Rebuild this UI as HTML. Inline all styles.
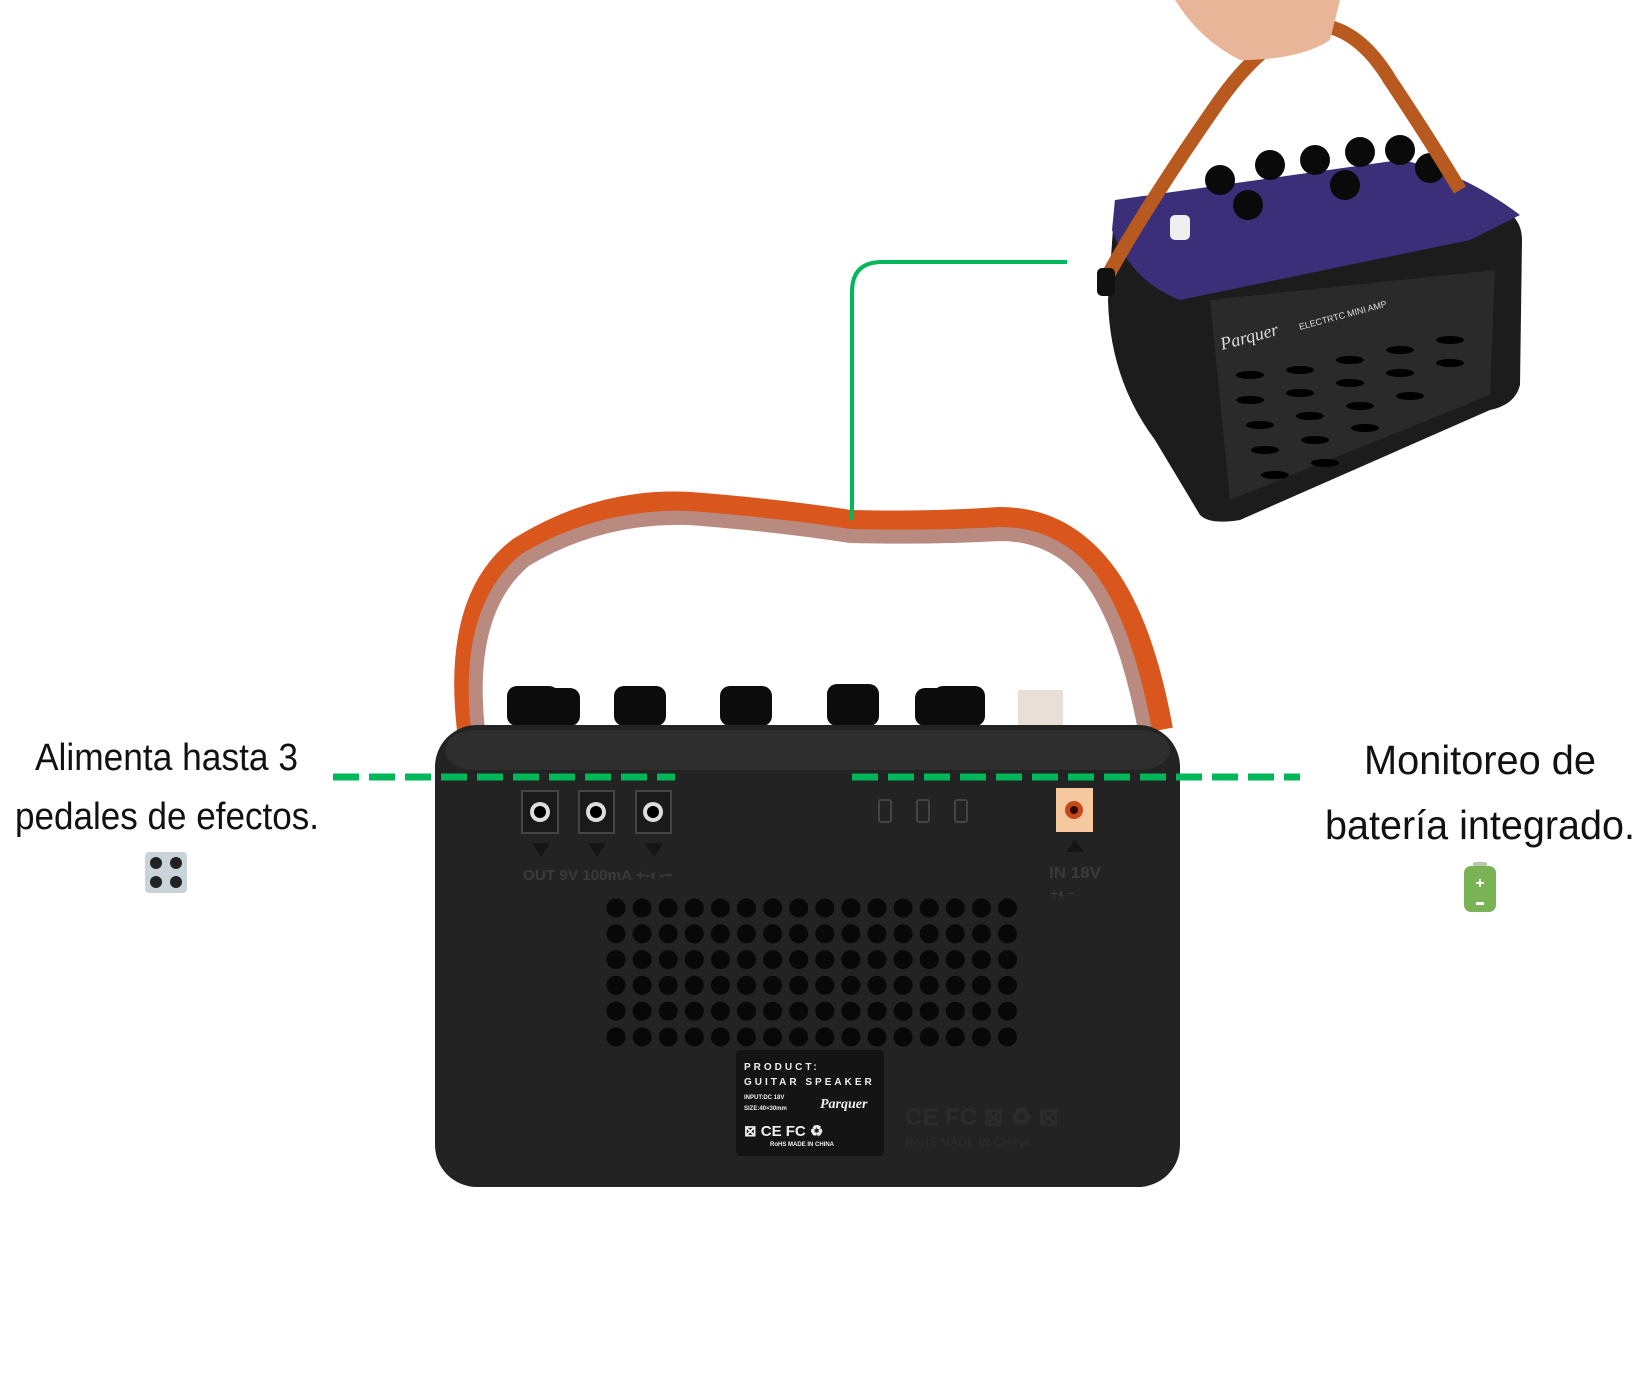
<!DOCTYPE html>
<html><head><meta charset="utf-8"><style>
html,body{margin:0;padding:0;background:#fff;}
svg{display:block;}
.cap{font-family:"Liberation Sans",sans-serif;fill:#111;}
</style></head><body>
<svg width="1645" height="1379" viewBox="0 0 1645 1379" xmlns="http://www.w3.org/2000/svg">
<!-- Captions -->
<text class="cap" x="35" y="770" font-size="38" textLength="263" lengthAdjust="spacingAndGlyphs">Alimenta hasta 3</text>
<text class="cap" x="15" y="829" font-size="38" textLength="304" lengthAdjust="spacingAndGlyphs">pedales de efectos.</text>
<text class="cap" x="1364" y="774" font-size="41" textLength="232" lengthAdjust="spacingAndGlyphs">Monitoreo de</text>
<text class="cap" x="1325" y="839" font-size="41" textLength="310" lengthAdjust="spacingAndGlyphs">batería integrado.</text>
<!-- pedal icon -->
<rect x="145" y="852" width="42" height="41" rx="4" fill="#c9d3da"/>
<circle cx="156" cy="863" r="6" fill="#222"/><circle cx="176" cy="863" r="6" fill="#222"/>
<circle cx="156" cy="882" r="6" fill="#222"/><circle cx="176" cy="882" r="6" fill="#222"/>
<!-- battery icon -->
<rect x="1473" y="862" width="14" height="6" rx="2" fill="#b8c7a8"/>
<rect x="1464" y="866" width="32" height="46" rx="7" fill="#7ab356"/>
<text x="1480" y="888" font-size="16" fill="#fff" text-anchor="middle" font-family="Liberation Sans,sans-serif" font-weight="bold">+</text>
<rect x="1476" y="902" width="8" height="3" fill="#fff"/>

<!-- Top-right amp (simplified) -->
<g>
<path d="M1115 200 L1470 200 Q1522 205 1522 240 L1520 385 Q1515 405 1490 410 L1240 520 Q1210 525 1200 515 L1155 440 Q1110 380 1108 300 Z" fill="#1c1c1c"/>
<path d="M1115 200 L1400 160 Q1460 170 1520 215 L1470 240 L1180 300 Q1130 280 1112 230 Z" fill="#3a2f78"/>
<path d="M1210 300 L1495 270 L1490 395 L1230 500 Z" fill="#2a2a2a"/>
<g fill="#000">
<ellipse cx="1250" cy="375" rx="14" ry="4"/><ellipse cx="1300" cy="370" rx="14" ry="4"/><ellipse cx="1350" cy="360" rx="14" ry="4"/><ellipse cx="1400" cy="350" rx="14" ry="4"/><ellipse cx="1450" cy="340" rx="14" ry="4"/>
<ellipse cx="1250" cy="400" rx="14" ry="4"/><ellipse cx="1300" cy="393" rx="14" ry="4"/><ellipse cx="1350" cy="383" rx="14" ry="4"/><ellipse cx="1400" cy="373" rx="14" ry="4"/><ellipse cx="1450" cy="363" rx="14" ry="4"/>
<ellipse cx="1260" cy="425" rx="14" ry="4"/><ellipse cx="1310" cy="416" rx="14" ry="4"/><ellipse cx="1360" cy="406" rx="14" ry="4"/><ellipse cx="1410" cy="396" rx="14" ry="4"/>
<ellipse cx="1265" cy="450" rx="14" ry="4"/><ellipse cx="1315" cy="440" rx="14" ry="4"/><ellipse cx="1365" cy="428" rx="14" ry="4"/>
<ellipse cx="1275" cy="475" rx="14" ry="4"/><ellipse cx="1325" cy="463" rx="14" ry="4"/>
</g>
<g fill="#0a0a0a">
<circle cx="1220" cy="180" r="15"/><circle cx="1270" cy="165" r="15"/><circle cx="1315" cy="160" r="15"/><circle cx="1360" cy="152" r="15"/><circle cx="1400" cy="150" r="15"/><circle cx="1430" cy="168" r="15"/><circle cx="1248" cy="205" r="15"/><circle cx="1345" cy="185" r="15"/>
</g>
<rect x="1170" y="215" width="20" height="25" rx="5" fill="#eee"/>
<text x="1222" y="350" font-size="18" fill="#ddd" font-family="Liberation Serif,serif" font-style="italic" transform="rotate(-15 1222 350)">Parquer</text>
<text x="1300" y="330" font-size="9" fill="#ddd" font-family="Liberation Sans,sans-serif" transform="rotate(-15 1300 330)">ELECTRTC MINI AMP</text>
<path d="M1108 275 Q1150 200 1220 100 Q1270 30 1320 25 Q1360 30 1390 80 Q1430 140 1460 190" fill="none" stroke="#b85a20" stroke-width="14"/>
<path d="M1175 0 Q1200 40 1240 60 Q1300 60 1330 40 L1340 0 Z" fill="#e8b598"/>
<rect x="1097" y="268" width="18" height="28" rx="5" fill="#111"/>
</g>

<!-- Main amp strap -->
<path d="M470 730 Q455 600 520 550 Q600 500 690 505 Q780 512 850 523 Q930 525 1000 520 Q1060 520 1100 570 Q1140 620 1160 730" fill="none" stroke="#d9561c" stroke-width="26"/>
<path d="M478 730 Q465 610 525 560 Q600 515 690 518 Q780 525 850 536 Q930 538 1000 534 Q1055 534 1090 578 Q1125 625 1145 730" fill="none" stroke="#b98a80" stroke-width="14"/>
<!-- knobs -->
<g fill="#0c0c0c">
<rect x="507" y="686" width="52" height="40" rx="10"/><rect x="535" y="688" width="45" height="38" rx="10"/>
<rect x="614" y="686" width="52" height="40" rx="10"/>
<rect x="720" y="686" width="52" height="40" rx="10"/>
<rect x="827" y="684" width="52" height="42" rx="10"/>
<rect x="915" y="688" width="40" height="38" rx="10"/><rect x="933" y="686" width="52" height="40" rx="10"/>
</g>
<rect x="1018" y="690" width="45" height="36" fill="#e8e0d6"/>
<!-- body -->
<rect x="435" y="725" width="745" height="462" rx="42" fill="#232323"/>
<rect x="445" y="730" width="725" height="40" rx="30" fill="#2e2e2e"/>
<!-- output jacks -->
<g>
<rect x="522" y="791" width="36" height="42" fill="#1a1a1a" stroke="#444" stroke-width="2"/>
<rect x="579" y="791" width="35" height="42" fill="#1a1a1a" stroke="#444" stroke-width="2"/>
<rect x="636" y="791" width="35" height="42" fill="#1a1a1a" stroke="#444" stroke-width="2"/>
<circle cx="540" cy="812" r="10" fill="#ddd"/><circle cx="540" cy="812" r="6" fill="#000"/>
<circle cx="596" cy="812" r="10" fill="#ddd"/><circle cx="596" cy="812" r="6" fill="#000"/>
<circle cx="653" cy="812" r="10" fill="#ddd"/><circle cx="653" cy="812" r="6" fill="#000"/>
<path d="M532 843 L550 843 L541 857 Z M588 843 L606 843 L597 857 Z M645 843 L663 843 L654 857 Z" fill="#151515"/>
<text x="523" y="880" font-size="15" fill="#3a3a3a" font-family="Liberation Sans,sans-serif" font-weight="bold" textLength="150" lengthAdjust="spacingAndGlyphs">OUT 9V 100mA +-◐-−</text>
</g>
<!-- battery leds -->
<g fill="none" stroke="#444" stroke-width="2">
<rect x="879" y="800" width="12" height="22" rx="2"/><rect x="917" y="800" width="12" height="22" rx="2"/><rect x="955" y="800" width="12" height="22" rx="2"/>
</g>
<!-- input jack -->
<rect x="1056" y="788" width="37" height="44" fill="#f5c8a0"/>
<circle cx="1074" cy="810" r="9" fill="#c44a1a"/><circle cx="1074" cy="810" r="4" fill="#300"/>
<path d="M1075 840 L1066 852 L1084 852 Z" fill="#151515"/>
<text x="1049" y="878" font-size="16" fill="#3a3a3a" font-family="Liberation Sans,sans-serif" font-weight="bold" textLength="52" lengthAdjust="spacingAndGlyphs">IN 18V</text>
<text x="1050" y="898" font-size="14" fill="#3a3a3a" font-family="Liberation Sans,sans-serif">+◐−</text>
<!-- grille -->
<g fill="#080808" id="g"></g>
<!-- label -->
<rect x="736" y="1050" width="148" height="106" rx="4" fill="#141414"/>
<g font-family="Liberation Sans,sans-serif" fill="#eee" font-weight="bold">
<text x="744" y="1070" font-size="10" letter-spacing="3">PRODUCT:</text>
<text x="744" y="1085" font-size="10" letter-spacing="3">GUITAR SPEAKER</text>
<text x="744" y="1099" font-size="6">INPUT:DC 18V</text>
<text x="744" y="1110" font-size="6">SIZE:40×30mm</text>
<text x="820" y="1108" font-size="14" font-style="italic" font-family="Liberation Serif,serif">Parquer</text>
<text x="744" y="1136" font-size="15">⊠ CE FC ♻</text>
<text x="770" y="1146" font-size="6">RoHS  MADE IN CHINA</text>
</g>
<text x="905" y="1125" font-size="24" fill="#2c2c2c" font-family="Liberation Sans,sans-serif" font-weight="bold">CE FC ⊠ ♻ ⊠</text>
<text x="905" y="1146" font-size="12" fill="#2c2c2c" font-family="Liberation Sans,sans-serif">RoHS  MADE IN CHINA</text>

<!-- green connectors -->
<line x1="333" y1="777" x2="675" y2="777" stroke="#00b859" stroke-width="7" stroke-dasharray="26 10"/>
<line x1="852" y1="777" x2="1300" y2="777" stroke="#00b859" stroke-width="7" stroke-dasharray="26 10"/>
<path d="M852 520 L852 292 Q852 262 882 262 L1067 262" fill="none" stroke="#00b859" stroke-width="4"/>
</svg>
<script>
var g=document.getElementById('g');var s='';
for(var r=0;r<6;r++)for(var c=0;c<16;c++){s+='<circle cx="'+(616+c*26.1)+'" cy="'+(908+r*25.8)+'" r="9.5"/>';}
g.innerHTML=s;
</script>
</body></html>
